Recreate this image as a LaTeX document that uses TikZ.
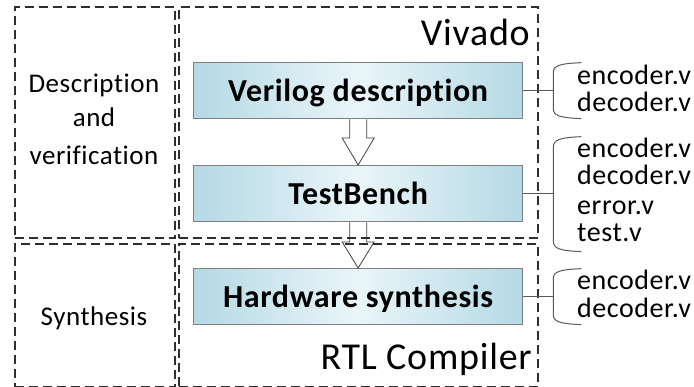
\documentclass[tikz,border=0pt]{standalone}
\usepackage{fontspec}
\setmainfont{Carlito}[Ligatures={NoCommon}, LetterSpace=2]
\usetikzlibrary{calc}
\definecolor{boxedge}{HTML}{B4D9E5}
\definecolor{boxmid}{HTML}{EAF5F9}
\definecolor{boxline}{HTML}{7F7F7F}
\definecolor{dashline}{HTML}{2E2E2E}
\definecolor{braceline}{HTML}{595959}
\begin{document}
\begin{tikzpicture}[x=1pt,y=-1pt,
  stage/.style={draw=boxline, line width=1.3pt, left color=boxedge, right color=boxedge,
    middle color=boxmid, minimum width=329pt, minimum height=56pt, inner sep=0pt,
    font=\fontsize{32}{40}\selectfont\bfseries, text height=21pt, text depth=0pt,
    anchor=north west},
  region/.style={draw=dashline, line width=1.6pt, dash pattern=on 9pt off 5pt,
    inner sep=0pt, anchor=north west},
  flow/.style={draw=black!75, line width=0.8pt, fill=white},
  bracket/.style={draw=braceline, line width=1pt},
  file/.style={anchor=base west, font=\fontsize{28}{30}\selectfont, inner sep=0pt},
  phase/.style={anchor=base, font=\fontsize{27}{30}\selectfont, inner sep=0pt},
  tool/.style={anchor=base east, font=\fontsize{38}{40}\selectfont, inner sep=0pt}]
\useasboundingbox (0,0) rectangle (694,387);

% process stages
\node[stage] (verilog) at (193,62) {Verilog description};
\node[stage] (tb) at (193,165) {TestBench};
\node[stage] (hw) at (193,268) {Hardware synthesis};

% hollow block arrows between stages
\draw[flow] ($(verilog.south)+(-8.5,0)$) -- ($(tb.north)+(-8.5,-27)$) -- ($(tb.north)+(-16,-27)$)
  -- (tb.north) -- ($(tb.north)+(16,-27)$) -- ($(tb.north)+(8.5,-27)$) -- ($(verilog.south)+(8.5,0)$);
\draw[flow] ($(tb.south)+(-8.5,0)$) -- ($(hw.north)+(-8.5,-26)$) -- ($(hw.north)+(-16,-26)$)
  -- (hw.north) -- ($(hw.north)+(16,-26)$) -- ($(hw.north)+(8.5,-26)$) -- ($(tb.south)+(8.5,0)$);

% dashed frames
\node[region, minimum width=160pt, minimum height=231pt] (descframe) at (14,6) {};
\node[region, minimum width=160pt, minimum height=143pt] (synframe) at (14,243) {};
\node[region, minimum width=359pt, minimum height=231pt] (vivframe) at (178,6) {};
\node[region, minimum width=359pt, minimum height=143pt] (rtlframe) at (178,243) {};

% phase and tool labels
\node[phase] (ph1) at (94,93) {Description};
\node[phase] (ph2) at (94,127) {and};
\node[phase] (ph3) at (94,165) {verification};
\node[phase] (ph4) at (94,326) {Synthesis};
\node[tool] (vivado) at (530,46) {Vivado};
\node[tool] (rtl) at (532,370) {RTL Compiler};

% brackets to the source files
\draw[bracket] (verilog.east) -- ++(30,0) coordinate (k1);
\draw[bracket] ($(k1)+(28,-28)$) .. controls ($(k1)+(6,-27)$) and ($(k1)+(0,-25)$) .. ($(k1)+(0,-18)$)
  -- ($(k1)+(0,18)$) .. controls ($(k1)+(0,25)$) and ($(k1)+(6,27)$) .. ($(k1)+(28,28)$);
\draw[bracket] (tb.east) -- ++(30,0) coordinate (k2);
\draw[bracket] ($(k2)+(28,-57)$) .. controls ($(k2)+(6,-56)$) and ($(k2)+(0,-54)$) .. ($(k2)+(0,-46)$)
  -- ($(k2)+(0,47)$) .. controls ($(k2)+(0,55)$) and ($(k2)+(6,57)$) .. ($(k2)+(28,58)$);
\draw[bracket] (hw.east) -- ++(30,0) coordinate (k3);
\draw[bracket] ($(k3)+(28,-28)$) .. controls ($(k3)+(6,-27)$) and ($(k3)+(0,-25)$) .. ($(k3)+(0,-18)$)
  -- ($(k3)+(0,18)$) .. controls ($(k3)+(0,25)$) and ($(k3)+(6,27)$) .. ($(k3)+(28,28)$);

% source files
\node[file] (f1a) at (577,85) {encoder.v};
\node[file] (f1b) at (577,112) {decoder.v};
\node[file] (f2a) at (577,158) {encoder.v};
\node[file] (f2b) at (577,185) {decoder.v};
\node[file] (f2c) at (577,215) {error.v};
\node[file] (f2d) at (577,242) {test.v};
\node[file] (f3a) at (577,290) {encoder.v};
\node[file] (f3b) at (577,318) {decoder.v};
\end{tikzpicture}
\end{document}
